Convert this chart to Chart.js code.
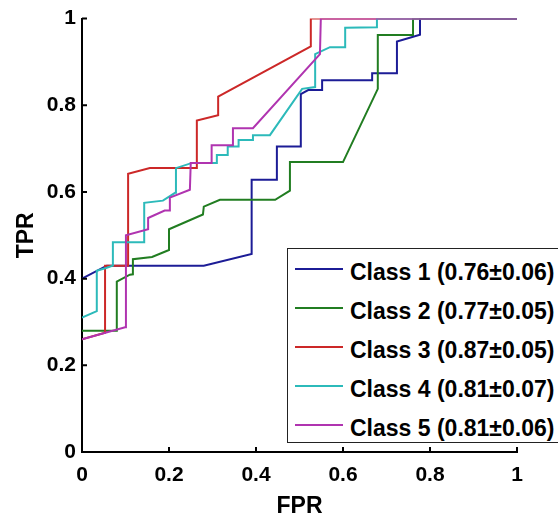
<!DOCTYPE html>
<html>
<head>
<meta charset="utf-8">
<script src="https://cdn.jsdelivr.net/npm/chart.js@4.4.0/dist/chart.umd.min.js"></script>
<style>
  html, body { margin: 0; padding: 0; background: #fff; overflow: hidden; }
  #wrap { position: relative; width: 558px; height: 516px; overflow: hidden; }
  #legend {
    position: absolute; left: 287px; top: 248px; width: 300px; height: 193px;
    border: 1px solid #222; background: #fff;
    font: bold 23px "Liberation Sans", Arial, sans-serif; color: #000;
  }
  .row { height: 39px; display: flex; align-items: center; white-space: nowrap; }
  .swatch { width: 48px; height: 2px; margin-left: 7px; margin-right: 7px; flex: none; }
  .row span { position: relative; top: 4px; }
</style>
</head>
<body>
<div id="wrap">
  <canvas id="roc" width="558" height="516"></canvas>
  <div id="legend"></div>
</div>
<script>
// ROC points (FPR, TPR)
const class1Fpr = [0, 0.057, 0.28, 0.39, 0.39, 0.448, 0.448, 0.503, 0.503, 0.52, 0.552, 0.552, 0.667, 0.667, 0.724, 0.724, 0.777, 0.777, 1];
const class1Tpr = [0.40, 0.43, 0.43, 0.457, 0.628, 0.628, 0.705, 0.705, 0.826, 0.835, 0.835, 0.858, 0.858, 0.874, 0.874, 0.947, 0.963, 1, 1];

const class2Fpr = [0, 0.08, 0.08, 0.11, 0.117, 0.117, 0.161, 0.2, 0.2, 0.278, 0.28, 0.317, 0.444, 0.478, 0.478, 0.6, 0.68, 0.68, 0.761, 0.761, 1];
const class2Tpr = [0.28, 0.28, 0.393, 0.409, 0.41, 0.445, 0.45, 0.466, 0.514, 0.548, 0.566, 0.582, 0.582, 0.603, 0.669, 0.669, 0.838, 0.962, 0.962, 1, 1];

const class3Fpr = [0, 0.053, 0.053, 0.106, 0.106, 0.156, 0.264, 0.264, 0.313, 0.313, 0.526, 0.526, 1];
const class3Tpr = [0.26, 0.275, 0.43, 0.43, 0.642, 0.655, 0.655, 0.765, 0.777, 0.82, 0.936, 1, 1];

const class4Fpr = [0, 0.034, 0.034, 0.057, 0.071, 0.071, 0.143, 0.143, 0.186, 0.214, 0.216, 0.253, 0.31, 0.31, 0.335, 0.335, 0.36, 0.36, 0.393, 0.393, 0.432, 0.506, 0.536, 0.536, 0.57, 0.605, 0.605, 0.678, 0.678, 1];
const class4Tpr = [0.31, 0.325, 0.418, 0.425, 0.43, 0.484, 0.484, 0.575, 0.58, 0.598, 0.655, 0.667, 0.667, 0.685, 0.685, 0.705, 0.705, 0.72, 0.72, 0.731, 0.731, 0.838, 0.842, 0.918, 0.934, 0.934, 0.979, 0.98, 1, 1];

const class5Fpr = [0, 0.099, 0.101, 0.101, 0.152, 0.152, 0.19, 0.202, 0.202, 0.248, 0.25, 0.298, 0.298, 0.347, 0.347, 0.393, 0.547, 0.549, 1];
const class5Tpr = [0.26, 0.288, 0.288, 0.50, 0.514, 0.54, 0.557, 0.557, 0.587, 0.605, 0.667, 0.667, 0.708, 0.708, 0.747, 0.747, 0.918, 1, 1];

const classLabels = ["Class 1 (0.76±0.06)", "Class 2 (0.77±0.05)", "Class 3 (0.87±0.05)", "Class 4 (0.81±0.07)", "Class 5 (0.81±0.06)"];
const classColors = ["#1c1c96", "#217d21", "#cc2828", "#2cbaba", "#b034b0"];
const tickLabels = ["0", "0.2", "0.4", "0.6", "0.8", "1"];

const fprs = [class1Fpr, class2Fpr, class3Fpr, class4Fpr, class5Fpr];
const tprs = [class1Tpr, class2Tpr, class3Tpr, class4Tpr, class5Tpr];

const datasets = classLabels.map((label, i) => ({
  label: label,
  data: fprs[i].map((x, j) => ({ x: x, y: tprs[i][j] })),
  borderColor: classColors[i],
  backgroundColor: classColors[i],
  borderWidth: 2,
  showLine: true,
  pointRadius: 0,
  tension: 0,
  order: 4 - i, // class 5 drawn on top, like matlab
}));

// matlab style ticks pointing into the plot
const innerTicks = {
  id: "innerTicks",
  afterDraw(chart) {
    const ctx = chart.ctx;
    const xs = chart.scales.x, ys = chart.scales.y;
    ctx.save();
    ctx.strokeStyle = "#000";
    ctx.lineWidth = 2;
    ctx.beginPath();
    xs.ticks.forEach(t => {
      const px = xs.getPixelForValue(t.value);
      ctx.moveTo(px, ys.bottom);
      ctx.lineTo(px, ys.bottom - 5);
    });
    ys.ticks.forEach(t => {
      const py = ys.getPixelForValue(t.value);
      ctx.moveTo(xs.left, py);
      ctx.lineTo(xs.left + 5, py);
    });
    ctx.stroke();
    ctx.restore();
  },
};

const tickFont = { family: "'Liberation Sans', Arial, sans-serif", size: 21, weight: "bold" };
const titleFont = { family: "'Liberation Sans', Arial, sans-serif", size: 23, weight: "bold" };

new Chart(document.getElementById("roc"), {
  type: "scatter",
  data: { datasets: datasets },
  plugins: [innerTicks],
  options: {
    responsive: false,
    animation: false,
    layout: { padding: { left: 0, right: 41, top: 14, bottom: 0 } },
    plugins: { legend: { display: false }, tooltip: { enabled: false } },
    scales: {
      x: {
        type: "linear",
        min: 0,
        max: 1,
        grid: { display: false, drawTicks: false },
        border: { display: true, color: "#000", width: 2 },
        ticks: {
          stepSize: 0.2,
          padding: 11,
          color: "#000",
          font: tickFont,
          maxRotation: 0,
          callback: (v, i) => tickLabels[i],
        },
        title: { display: true, text: "FPR", color: "#000", font: { ...titleFont, lineHeight: 0.8 }, padding: { top: 0, bottom: 0 } },
        afterFit: s => { s.height = 64; },
      },
      y: {
        type: "linear",
        min: 0,
        max: 1,
        grid: { display: false, drawTicks: false },
        border: { display: true, color: "#000", width: 2 },
        ticks: {
          stepSize: 0.2,
          padding: 6,
          color: "#000",
          font: tickFont,
          callback: (v, i) => tickLabels[i],
        },
        title: { display: true, text: "TPR", color: "#000", font: { ...titleFont, lineHeight: 1.2 }, padding: { top: 13, bottom: 0 } },
        afterFit: s => { s.width = 82; },
      },
    },
  },
});

// legend box drawn inside the plot, lower right, as in the figure
const legendEl = document.getElementById("legend");
classLabels.forEach((label, i) => {
  const row = document.createElement("div");
  row.className = "row";
  const sw = document.createElement("div");
  sw.className = "swatch";
  sw.style.background = classColors[i];
  const txt = document.createElement("span");
  txt.textContent = label;
  row.appendChild(sw);
  row.appendChild(txt);
  legendEl.appendChild(row);
});
</script>
</body>
</html>
